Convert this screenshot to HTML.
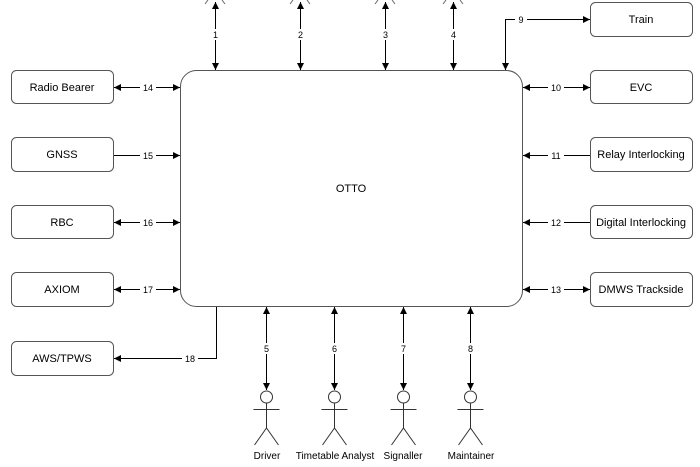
<!DOCTYPE html>
<html><head><meta charset="utf-8"><style>
html,body{margin:0;padding:0;background:#fff;}
svg{display:block;font-family:"Liberation Sans",Arial,sans-serif;}
</style></head><body>
<svg width="700" height="467" viewBox="0 0 700 467" xmlns="http://www.w3.org/2000/svg">
<defs>
<marker id="a" markerWidth="8" markerHeight="8" refX="7" refY="4" orient="auto" markerUnits="userSpaceOnUse"><path d="M0,0.5 L7,4 L0,7.5 Z" fill="#000"/></marker>
<marker id="s" markerWidth="8" markerHeight="8" refX="1" refY="4" orient="auto" markerUnits="userSpaceOnUse"><path d="M8,0.5 L1,4 L8,7.5 Z" fill="#000"/></marker>
</defs>
<g fill="#fff" stroke="#555" stroke-width="1">
<rect x="180.5" y="70.5" width="342" height="236" rx="16"/>
<rect x="11.5" y="70.5" width="102" height="33" rx="5"/>
<rect x="11.5" y="137.5" width="102" height="34" rx="5"/>
<rect x="11.5" y="205.5" width="102" height="33" rx="5"/>
<rect x="11.5" y="272.5" width="102" height="34" rx="5"/>
<rect x="11.5" y="341.5" width="102" height="34" rx="5"/>
<rect x="590.5" y="2.5" width="102" height="34" rx="5"/>
<rect x="590.5" y="70.5" width="102" height="33" rx="5"/>
<rect x="590.5" y="137.5" width="102" height="34" rx="5"/>
<rect x="590.5" y="205.5" width="102" height="33" rx="5"/>
<rect x="590.5" y="272.5" width="102" height="34" rx="5"/>
</g>
<g font-size="11" fill="#000" text-anchor="middle">
<text x="351" y="192">OTTO</text>
<text x="62" y="91">Radio Bearer</text>
<text x="62" y="158">GNSS</text>
<text x="62" y="226">RBC</text>
<text x="62" y="293">AXIOM</text>
<text x="62" y="362">AWS/TPWS</text>
<text x="641" y="23">Train</text>
<text x="641" y="91">EVC</text>
<text x="641" y="158">Relay Interlocking</text>
<text x="641" y="226">Digital Interlocking</text>
<text x="641" y="293">DMWS Trackside</text>
</g>
<g font-size="10" fill="#000" text-anchor="middle">
<text x="267" y="459">Driver</text>
<text x="335" y="459">Timetable Analyst</text>
<text x="403" y="459">Signaller</text>
<text x="471" y="459">Maintainer</text>
</g>
<g stroke="#000" stroke-width="1" fill="none">
<line x1="215.5" y1="2" x2="215.5" y2="70" marker-start="url(#s)" marker-end="url(#a)"/>
<line x1="300.5" y1="2" x2="300.5" y2="70" marker-start="url(#s)" marker-end="url(#a)"/>
<line x1="385.5" y1="2" x2="385.5" y2="70" marker-start="url(#s)" marker-end="url(#a)"/>
<line x1="453.5" y1="2" x2="453.5" y2="70" marker-start="url(#s)" marker-end="url(#a)"/>
<polyline points="505.5,70 505.5,19.5 590,19.5" marker-start="url(#s)" marker-end="url(#a)"/>
<line x1="114" y1="87.5" x2="180" y2="87.5" marker-start="url(#s)" marker-end="url(#a)"/>
<line x1="114" y1="155.5" x2="180" y2="155.5" marker-end="url(#a)"/>
<line x1="114" y1="222.5" x2="180" y2="222.5" marker-start="url(#s)" marker-end="url(#a)"/>
<line x1="114" y1="289.5" x2="180" y2="289.5" marker-start="url(#s)" marker-end="url(#a)"/>
<polyline points="216.5,307 216.5,358.5 114,358.5" marker-end="url(#a)"/>
<line x1="523" y1="87.5" x2="590" y2="87.5" marker-start="url(#s)" marker-end="url(#a)"/>
<line x1="590" y1="155.5" x2="523" y2="155.5" marker-end="url(#a)"/>
<line x1="590" y1="222.5" x2="523" y2="222.5" marker-end="url(#a)"/>
<line x1="523" y1="289.5" x2="590" y2="289.5" marker-start="url(#s)" marker-end="url(#a)"/>
<line x1="266.5" y1="307" x2="266.5" y2="390" marker-start="url(#s)" marker-end="url(#a)"/>
<line x1="334.5" y1="307" x2="334.5" y2="390" marker-start="url(#s)" marker-end="url(#a)"/>
<line x1="403.5" y1="307" x2="403.5" y2="390" marker-start="url(#s)" marker-end="url(#a)"/>
<line x1="470.5" y1="307" x2="470.5" y2="390" marker-start="url(#s)" marker-end="url(#a)"/>
</g>
<g stroke="#666" stroke-width="1" fill="none">
<path d="M205,4 L208,0 M225,4 L222,0"/>
<path d="M290,4 L293,0 M310,4 L307,0"/>
<path d="M375,4 L378,0 M395,4 L392,0"/>
<path d="M443,4 L446,0 M463,4 L460,0"/>
</g>
<g stroke="#333" stroke-width="1" fill="#fff">
<g transform="translate(266.5,0)"><circle cx="0" cy="397" r="6"/><line x1="-13" y1="409.5" x2="13" y2="409.5"/><line x1="0" y1="403" x2="0" y2="428"/><polyline points="-12,445 0,428 12,445" fill="none"/></g>
<g transform="translate(334.5,0)"><circle cx="0" cy="397" r="6"/><line x1="-13" y1="409.5" x2="13" y2="409.5"/><line x1="0" y1="403" x2="0" y2="428"/><polyline points="-12,445 0,428 12,445" fill="none"/></g>
<g transform="translate(403.5,0)"><circle cx="0" cy="397" r="6"/><line x1="-13" y1="409.5" x2="13" y2="409.5"/><line x1="0" y1="403" x2="0" y2="428"/><polyline points="-12,445 0,428 12,445" fill="none"/></g>
<g transform="translate(470.5,0)"><circle cx="0" cy="397" r="6"/><line x1="-13" y1="409.5" x2="13" y2="409.5"/><line x1="0" y1="403" x2="0" y2="428"/><polyline points="-12,445 0,428 12,445" fill="none"/></g>
</g>
<g font-size="9" text-anchor="middle">
<g fill="#fff">
<rect x="210" y="29" width="11" height="11"/><rect x="295" y="29" width="11" height="11"/><rect x="380" y="29" width="11" height="11"/><rect x="448" y="29" width="11" height="11"/>
<rect x="515" y="14" width="12" height="11"/>
<rect x="140" y="82" width="16" height="11"/><rect x="140" y="150" width="16" height="11"/><rect x="140" y="217" width="16" height="11"/><rect x="140" y="284" width="16" height="11"/><rect x="182" y="353" width="16" height="11"/>
<rect x="548" y="82" width="16" height="11"/><rect x="548" y="150" width="16" height="11"/><rect x="548" y="217" width="16" height="11"/><rect x="548" y="284" width="16" height="11"/>
<rect x="261" y="343" width="11" height="11"/><rect x="329" y="343" width="11" height="11"/><rect x="398" y="343" width="11" height="11"/><rect x="465" y="343" width="11" height="11"/>
</g>
<g fill="#000">
<text x="215.5" y="38">1</text><text x="300.5" y="38">2</text><text x="385.5" y="38">3</text><text x="453.5" y="38">4</text>
<text x="521" y="23">9</text>
<text x="148" y="91">14</text><text x="148" y="159">15</text><text x="148" y="226">16</text><text x="148" y="293">17</text><text x="190" y="362">18</text>
<text x="556" y="91">10</text><text x="556" y="159">11</text><text x="556" y="226">12</text><text x="556" y="293">13</text>
<text x="266.5" y="352">5</text><text x="334.5" y="352">6</text><text x="403.5" y="352">7</text><text x="470.5" y="352">8</text>
</g>
</g>
</svg>
</body></html>
